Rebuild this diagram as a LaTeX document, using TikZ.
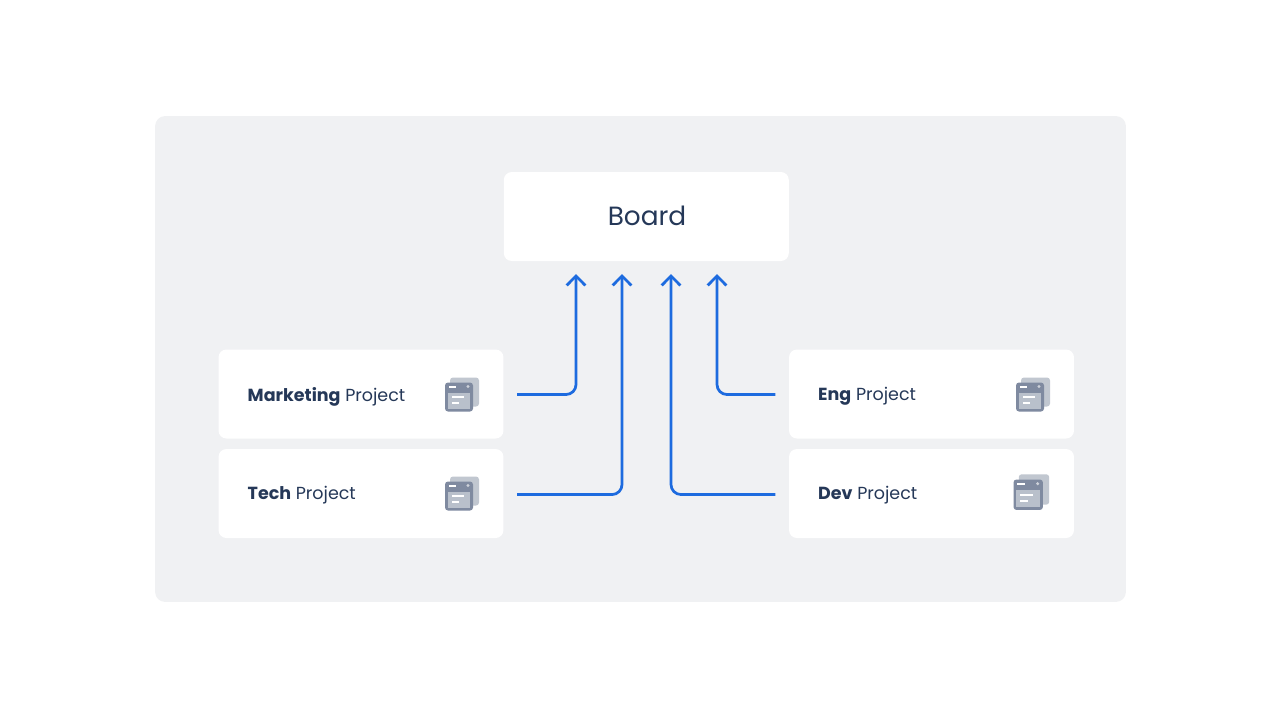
\documentclass[tikz,border=0pt]{standalone}
\usepackage{fontspec}
\setmainfont{Poppins}
\usepackage{tikz}
\usetikzlibrary{arrows.meta}

\definecolor{panelgray}{HTML}{F0F1F3}
\definecolor{textnavy}{HTML}{253858}
\definecolor{flowblue}{HTML}{1D6BDF}
\definecolor{iconback}{HTML}{C1C7D0}
\definecolor{iconfront}{HTML}{7F8AA0}
\definecolor{iconpanel}{HTML}{B9C0CB}

\tikzset{
	box/.style={fill=white, rounded corners=4.5pt, minimum width=5.7cm, minimum height=1.78cm},
	projlabel/.style={anchor=west, text=textnavy, font=\fontsize{9.95}{12}\selectfont},
	flow/.style={-{Straight Barb[length=5.4pt,width=10.6pt]}, flowblue, line width=1.55pt, rounded corners=5.7pt},
}

% project icon: shift x, shift y, scale (drawn around its top left corner)
\newcommand{\projicon}[3]{
	\begin{scope}[shift={(#1,#2)}, scale=#3]
		\fill[iconback, rounded corners=1.7pt] (5,-5) rectangle (34,24);
		\fill[iconfront, rounded corners=1.7pt] (0,0) rectangle (28,29);
		\fill[iconpanel] (2.5,10) rectangle (25,26);
		\fill[white] (3.5,3) rectangle (11,5);
		\fill[white] (6.5,13.5) rectangle (19,15.5);
		\fill[white] (6.5,19.5) rectangle (14,21.5);
		\fill[panelgray!70!iconfront] (23,4) circle (1.6);
	\end{scope}
}

\begin{document}
\begin{tikzpicture}[x=0.02cm, y=-0.02cm]
	\useasboundingbox (0,0) rectangle (1280,721);
	
	% Background panel
	\node[fill=panelgray, rounded corners=5.7pt, minimum width=19.42cm, minimum height=9.72cm] (panel) at (640.5,359) {};
	
	% Board
	\node[box] (board) at (646.3,216.5) {};
	\node[text=textnavy, font=\fontsize{15}{18}\selectfont] (boardlabel) at (647,215.5) {Board};
	
	% Left projects
	\node[box] (marketing) at (361,394) {};
	\node[box] (tech) at (361,493.5) {};
	\node[projlabel] (marketinglabel) at (241.5,396.5) {\textbf{Marketing} Project};
	\node[projlabel] (techlabel) at (241.5,495.5) {\textbf{Tech} Project};
	
	% Right projects
	\node[box] (eng) at (931.5,394) {};
	\node[box] (dev) at (931.5,493.5) {};
	\node[projlabel] (englabel) at (812,396.5) {\textbf{Eng} Project};
	\node[projlabel] (devlabel) at (812,495.5) {\textbf{Dev} Project};
	
	% Icons
	\projicon{445}{382.5}{1}
	\projicon{445}{481.5}{1}
	\projicon{1016}{382.5}{1}
	\projicon{1013.5}{479.5}{1.05}
	
	% Arrow ends below the board
	\coordinate (tipa) at (576,274);
	\coordinate (tipb) at (622,274);
	\coordinate (tipc) at (671,274);
	\coordinate (tipd) at (717,274);
	
	% Arrows
	\draw[flow] ([xshift=7.6pt,yshift=-0.3pt]marketing.east) -| (tipa);
	\draw[flow] ([xshift=7.6pt,yshift=-0.6pt]tech.east) -| (tipb);
	\draw[flow] ([xshift=-7.6pt,yshift=-0.6pt]dev.west) -| (tipc);
	\draw[flow] ([xshift=-7.6pt,yshift=-0.3pt]eng.west) -| (tipd);
	
\end{tikzpicture}
\end{document}
